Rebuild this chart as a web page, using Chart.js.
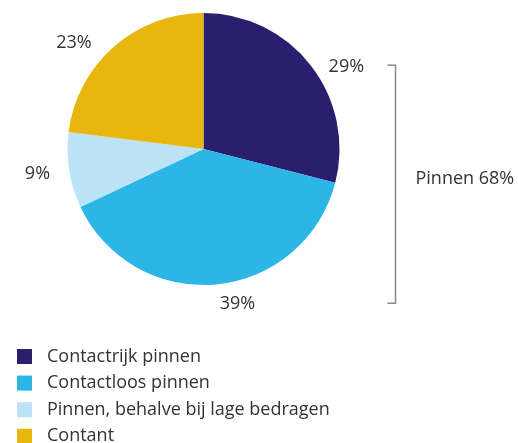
<!DOCTYPE html>
<html>
<head>
<meta charset="utf-8">
<script src="https://cdn.jsdelivr.net/npm/chart.js@4/dist/chart.umd.min.js"></script>
<style>
  html, body { margin: 0; padding: 0; background: #ffffff; }
  #wrap { width: 518px; height: 443px; position: relative; }
</style>
</head>
<body>
<div id="wrap"><canvas id="c" width="518" height="443"></canvas></div>
<script>
const categories = ["Contactrijk pinnen", "Contactloos pinnen", "Pinnen, behalve bij lage bedragen", "Contant"];
const values = [29, 39, 9, 23];
const colors = ["#2a1e6e", "#2cb6e6", "#bce3f7", "#e8b60f"];
const groupName = "Pinnen";
const groupMembers = [0, 1];
const labelNudge = [[18, 15], [19, -2], [-10, 0], [-25, 12]];

const FONT = '"Open Sans", "Noto Sans", sans-serif';
const TEXT = '#333333';

const overlay = {
  id: 'overlay',
  afterDatasetsDraw(chart) {
    const ctx = chart.ctx;
    const meta = chart.getDatasetMeta(0);
    const pos = [];
    ctx.save();
    ctx.font = '18px ' + FONT;
    ctx.fillStyle = TEXT;
    ctx.textAlign = 'center';
    ctx.textBaseline = 'middle';
    meta.data.forEach((arc, i) => {
      const p = arc.getProps(['x', 'y', 'startAngle', 'endAngle', 'outerRadius'], true);
      const mid = (p.startAngle + p.endAngle) / 2;
      const d = p.outerRadius + 22;
      const x = p.x + Math.cos(mid) * d + labelNudge[i][0];
      const y = p.y + Math.sin(mid) * d + labelNudge[i][1];
      pos.push([x, y]);
      ctx.fillText(values[i] + '%', x, y);
    });
    // bracket
    const a0 = meta.data[0].getProps(['x', 'outerRadius'], true);
    const bx = a0.x + a0.outerRadius + 56;
    const top = pos[groupMembers[0]][1] - 2;
    const bot = pos[groupMembers[groupMembers.length - 1]][1] - 1;
    ctx.strokeStyle = '#8a8a8a';
    ctx.lineWidth = 1.5;
    ctx.beginPath();
    ctx.moveTo(bx - 8, top);
    ctx.lineTo(bx, top);
    ctx.lineTo(bx, bot);
    ctx.lineTo(bx - 8, bot);
    ctx.stroke();
    const total = groupMembers.reduce((s, k) => s + values[k], 0);
    ctx.textAlign = 'left';
    ctx.fillText(groupName + ' ' + total + '%', bx + 20, (top + bot) / 2 - 5);
    // legend
    categories.forEach((c, i) => {
      const ty = 349 + i * 26.6;
      ctx.fillStyle = colors[i];
      ctx.fillRect(17, ty, 15, 15);
      ctx.fillStyle = TEXT;
      ctx.fillText(c, 47, ty + 7.5);
    });
    ctx.restore();
  }
};

new Chart(document.getElementById('c'), {
  type: 'pie',
  data: {
    labels: categories,
    datasets: [{ data: values, backgroundColor: colors, borderWidth: 0 }]
  },
  options: {
    responsive: false,
    animation: false,
    layout: { padding: { left: 67, right: 178, top: 13, bottom: 158 } },
    plugins: { legend: { display: false }, tooltip: { enabled: false } }
  },
  plugins: [overlay]
});
</script>
</body>
</html>
